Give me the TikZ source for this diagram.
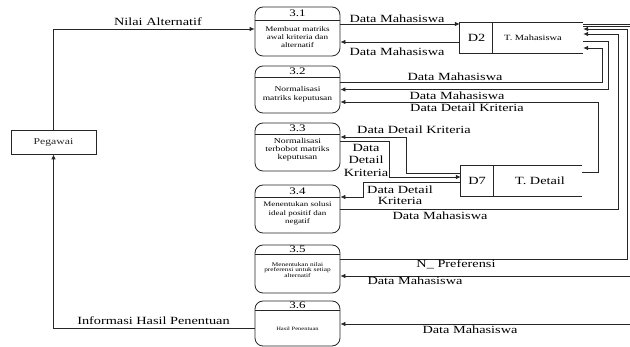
\documentclass[tikz,border=0pt]{standalone}
\usepackage{fontspec}
\setmainfont[FakeStretch=1.3]{Liberation Serif}
\usepackage{tikz}
\usetikzlibrary{arrows.meta, positioning, calc}

\begin{document}
\begin{tikzpicture}[
  x=1pt, y=1pt,
  every node/.style={align=center},
  line/.style={line width=0.8pt, black!85},
  flow/.style={line, -{Latex[length=5pt,width=4.5pt]}},
  proc/.style={line, draw, rounded corners=8pt, minimum width=85pt, inner sep=0pt},
  store/.style={minimum width=123pt, minimum height=30pt, inner sep=0pt},
  ext/.style={line, draw, minimum width=85pt, minimum height=24pt, inner sep=0pt,
    font=\fontsize{9}{10}\selectfont},
  num/.style={font=\fontsize{10}{11}\selectfont, inner sep=0pt},
  lbl/.style={font=\fontsize{11}{12.5}\selectfont, inner sep=0pt}
]

%% Canvas
\useasboundingbox (0,0) rectangle (630,-347);
\clip (0,0) rectangle (630,-347);

%% ---- External entity ----
\node[ext] (peg) at (53.5,-142) {Pegawai};

%% ---- Processes ----
\node[proc, minimum height=49pt] (p1) at (297.5,-31.5) {};
\draw[line] ([yshift=-14pt]p1.north west) -- ([yshift=-14pt]p1.north east);
\node[num] (n1) at ([yshift=-7pt]p1.north) {3.1};
\node[font=\fontsize{7}{8}\selectfont] (t1) at (297.5,-37)
  {Membuat matriks\\awal kriteria dan\\alternatif};

\node[proc, minimum height=47pt] (p2) at (297.5,-89.5) {};
\draw[line] ([yshift=-12pt]p2.north west) -- ([yshift=-12pt]p2.north east);
\node[num] (n2) at ([yshift=-6pt]p2.north) {3.2};
\node[font=\fontsize{7.3}{9}\selectfont] (t2) at (297.5,-94.5)
  {Normalisasi\\matriks keputusan};

\node[proc, minimum height=48pt] (p3) at (297.5,-147) {};
\draw[line] ([yshift=-12pt]p3.north west) -- ([yshift=-12pt]p3.north east);
\node[num] (n3) at ([yshift=-6pt]p3.north) {3.3};
\node[font=\fontsize{7.5}{8}\selectfont] (t3) at (297.5,-150)
  {Normalisasi\\terbobot matriks\\keputusan};

\node[proc, minimum height=48pt] (p4) at (297.5,-209) {};
\draw[line] ([yshift=-13pt]p4.north west) -- ([yshift=-13pt]p4.north east);
\node[num] (n4) at ([yshift=-6.5pt]p4.north) {3.4};
\node[font=\fontsize{6.9}{8.5}\selectfont] (t4) at (297.5,-213.5)
  {Menentukan solusi\\ideal positif dan\\negatif};

\node[proc, minimum height=48pt] (p5) at (297.5,-269) {};
\draw[line] ([yshift=-10pt]p5.north west) -- ([yshift=-10pt]p5.north east);
\node[num] (n5) at ([yshift=-5pt]p5.north) {3.5};
\node[font=\fontsize{5.6}{5.6}\selectfont] (t5) at (297.5,-270)
  {Menentukan nilai\\preferensi untuk setiap\\alternatif};

\node[proc, minimum height=45pt] (p6) at (297.5,-323.5) {};
\draw[line] ([yshift=-9.5pt]p6.north west) -- ([yshift=-9.5pt]p6.north east);
\node[num] (n6) at ([yshift=-4.8pt]p6.north) {3.6};
\node[font=\fontsize{5}{6}\selectfont] (t6) at (297.5,-329) {Hasil Penentuan};

%% ---- Data stores ----
\node[store] (d2) at (521.5,-38) {};
\draw[line] (d2.north east) -- (d2.north west) -- (d2.south west) -- (d2.south east);
\draw[line] ([xshift=33pt]d2.north west) -- ([xshift=33pt]d2.south west);
\node[lbl] (d2id) at (476.5,-38) {D2};
\node[font=\fontsize{8}{9}\selectfont] (d2nm) at (533,-38) {T. Mahasiswa};

\node[store, minimum width=121pt] (d7) at (521.5,-181) {};
\draw[line] (d7.north east) -- (d7.north west) -- (d7.south west) -- (d7.south east);
\draw[line] ([xshift=33pt]d7.north west) -- ([xshift=33pt]d7.south west);
\node[lbl] (d7id) at (477,-181) {D7};
\node[lbl] (d7nm) at (540,-181) {T. Detail};

%% ---- Flows with Pegawai ----
\draw[flow] (peg.north) |- ([yshift=2.5pt]p1.west);
\node[lbl] (l1) at (158,-22) {Nilai Alternatif};
\draw[flow] ([yshift=-4.5pt]p6.west) -| (peg.south);
\node[lbl] (l2) at (153.5,-321) {Informasi Hasil Penentuan};

%% ---- Flows with D2 ----
\draw[flow] ([yshift=7.5pt]p1.east) -- ([yshift=14pt]d2.west);
\node[lbl] (l3) at (397,-19) {Data Mahasiswa};
\draw[flow] ([yshift=-4pt]d2.west) -- ([yshift=-10.5pt]p1.east);
\node[lbl] (l4) at (397,-52) {Data Mahasiswa};

\draw[flow] ([yshift=7.5pt]p2.east) -- (602,-82) |- ([yshift=-10pt]d2.east);
\node[lbl] (l5) at (455,-77) {Data Mahasiswa};
\draw[flow] ([yshift=-3pt]d2.east) -- (608,-41) |- (p2.east);
\node[lbl] (l6) at (457,-95.5) {Data Mahasiswa};

\draw[flow] (p4.east) -- (618,-209) |- ([yshift=4pt]d2.east);
\node[lbl] (l8) at (440,-216) {Data Mahasiswa};

\draw[flow] ([yshift=10pt]p5.east) -- (627,-259) |- ([yshift=9pt]d2.east);
\node[lbl] (l9) at (456,-264) {N\_ Preferensi};

\draw[flow] ([yshift=11.5pt]d2.east) -- (640,-26.5) |- ([yshift=-7pt]p5.east);
\node[lbl] (l11) at (415,-281) {Data Mahasiswa};
\draw[flow] ([yshift=13.5pt]d2.east) -- (645,-24.5) |- ([yshift=-0.5pt]p6.east);
\node[lbl] (l10) at (470,-329.5) {Data Mahasiswa};

%% ---- Flows with D7 ----
\draw[flow] ([yshift=9pt]d7.east) -- (598,-172) |- ([yshift=-12.5pt]p2.east);
\node[lbl] (l7) at (467,-108) {Data Detail Kriteria};

\draw[flow] ([yshift=8pt]d7.west) -- (406,-173) |- ([yshift=10pt]p3.east);
\node[lbl] (l12) at (414,-129.5) {Data Detail Kriteria};
\draw[flow] ([yshift=6pt]p3.east) -- (389,-141) |- ([yshift=4pt]d7.west);
\node[lbl] (l13) at (366,-160) {Data\\Detail\\Kriteria};

\draw[flow] ([yshift=-1pt]d7.west) -- (363,-182) |- ([yshift=12pt]p4.east);
\node[lbl, font=\fontsize{11}{11}\selectfont] (l14) at (400,-195) {Data Detail\\Kriteria};

\end{tikzpicture}
\end{document}
